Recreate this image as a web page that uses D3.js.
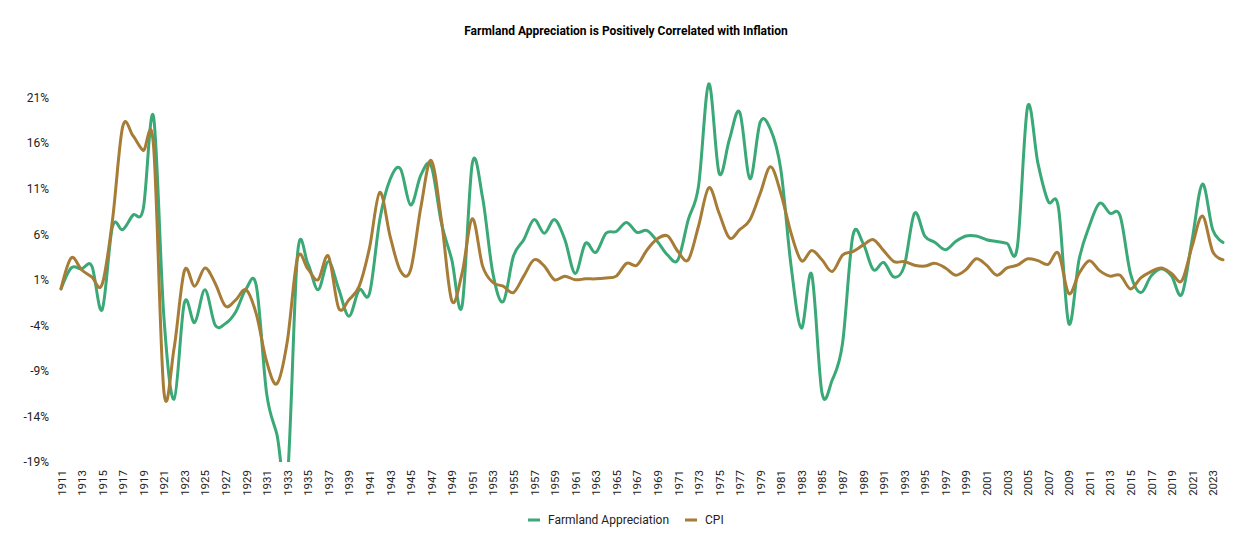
<!DOCTYPE html>
<html>
<head>
<meta charset="utf-8">
<script src="https://cdn.jsdelivr.net/npm/d3@7"></script>
<style>
  body { margin: 0; background: #fff; }
  text { font-family: Roboto, "Noto Sans", sans-serif; }
</style>
</head>
<body>
<svg id="chart"></svg>
<script>
// Data (annual % change)
const years = d3.range(1911, 2025);

const farmland = [
    0.0, 2.3, 2.2, 2.5, -2.3, 6.8, 6.5, 8.1, 8.8, 18.9,          // 1911-1920
    -3.0, -12.1, -1.5, -3.7, -0.1, -4.0, -3.8, -2.5, 0.0, 0.3,   // 1921-1930
    -11.5, -16.0, -21.0, 3.8, 2.8, -0.1, 3.0, 0.0, -3.0, -0.1,   // 1931-1940
    -0.5, 7.6, 12.0, 13.2, 9.2, 12.5, 13.5, 7.2, 3.2, -1.9,      // 1941-1950
    13.8, 10.0, 1.7, -1.4, 3.6, 5.4, 7.6, 6.1, 7.6, 5.4,         // 1951-1960
    1.7, 5.0, 4.0, 6.1, 6.3, 7.3, 6.2, 6.4, 5.2, 3.7,            // 1961-1970
    3.2, 7.6, 11.3, 22.5, 12.7, 16.4, 19.4, 12.1, 18.3, 17.5,    // 1971-1980
    13.1, 2.5, -4.3, 1.6, -11.4, -10.0, -6.0, 5.8, 5.0, 2.1,     // 1981-1990
    2.9, 1.3, 2.5, 8.3, 5.8, 5.1, 4.3, 5.2, 5.8, 5.8,            // 1991-2000
    5.4, 5.2, 5.0, 4.6, 20.0, 13.8, 9.6, 8.9, -3.8, 3.2,         // 2001-2010
    6.9, 9.4, 8.3, 8.0, 1.7, -0.4, 1.4, 2.2, 1.4, -0.6,          // 2011-2020
    5.4, 11.5, 6.5, 5.1                                          // 2021-2024
];

const cpi = [
    0.0, 3.4, 2.1, 1.3, 0.5, 7.5, 17.8, 16.8, 15.2, 15.7,        // 1911-1920
    -11.2, -6.5, 2.0, 0.3, 2.3, 0.6, -1.9, -1.2, -0.1, -2.8,     // 1921-1930
    -8.0, -10.4, -5.8, 3.4, 2.2, 1.0, 3.6, -2.1, -1.2, 0.3,      // 1931-1940
    4.5, 10.6, 5.8, 2.0, 2.1, 9.0, 14.1, 7.5, -1.3, 1.7,         // 1941-1950
    7.7, 2.5, 0.7, 0.3, -0.4, 1.4, 3.2, 2.5, 1.0, 1.4,           // 1951-1960
    1.0, 1.1, 1.1, 1.2, 1.4, 2.8, 2.6, 4.3, 5.5, 5.8,            // 1961-1970
    4.1, 3.2, 6.9, 11.1, 8.3, 5.6, 6.5, 7.6, 10.5, 13.4,         // 1971-1980
    10.5, 6.1, 3.1, 4.2, 3.2, 1.9, 3.7, 4.1, 4.8, 5.4,           // 1981-1990
    4.2, 3.0, 3.0, 2.6, 2.5, 2.8, 2.3, 1.5, 2.1, 3.3,            // 1991-2000
    2.6, 1.5, 2.3, 2.6, 3.3, 3.1, 2.7, 3.9, -0.5, 1.7,           // 2001-2010
    3.1, 2.0, 1.4, 1.5, 0.0, 1.2, 1.9, 2.3, 1.7, 0.9,            // 2011-2020
    4.7, 8.0, 4.1, 3.2                                           // 2021-2024
];

const yTicks = [-19, -14, -9, -4, 1, 6, 11, 16, 21];
const xTicks = years.filter(y => y % 2 === 1);

const seriesNames = ["Farmland Appreciation", "CPI"];
const seriesColors = ["#3aa877", "#a67c36"];

// Layout
const W = 1254, H = 540;
const margin = { top: 52, right: 31, bottom: 78, left: 61 };
const width = W - margin.left - margin.right;
const height = H - margin.top - margin.bottom;

const svg = d3.select("#chart")
    .attr("width", W)
    .attr("height", H);

svg.append("text")
    .attr("x", 626)
    .attr("y", 35)
    .attr("text-anchor", "middle")
    .style("font-size", "12px")
    .style("font-weight", "bold")
    .attr("fill", "#000")
    .text("Farmland Appreciation is Positively Correlated with Inflation");

const g = svg.append("g")
    .attr("transform", `translate(${margin.left}, ${margin.top})`);

// Scales
const xScale = d3.scaleLinear().domain([1911, 2024]).range([0, width]);
const yScale = d3.scaleLinear().domain([-19, 26]).range([height, 0]);

// Axes
const xAxis = g.append("g")
    .attr("transform", `translate(0, ${height})`)
    .call(d3.axisBottom(xScale).tickValues(xTicks).tickSize(0).tickFormat(d3.format("d")));
xAxis.select(".domain").remove();
xAxis.selectAll("text")
    .attr("transform", "rotate(-90)")
    .attr("text-anchor", "end")
    .attr("x", -8)
    .attr("y", 0)
    .attr("dy", "0.35em")
    .attr("fill", "#222")
    .style("font-size", "11.5px")
    .style("font-family", "Roboto, sans-serif");

const yAxis = g.append("g")
    .call(d3.axisLeft(yScale).tickValues(yTicks).tickSize(0).tickPadding(12).tickFormat(d => d + "%"));
yAxis.select(".domain").remove();
yAxis.selectAll("text")
    .attr("fill", "#222")
    .style("font-size", "12px")
    .style("font-family", "Roboto, sans-serif");

// Clip the lines at the bottom of the plot area
g.append("clipPath")
    .attr("id", "plot-clip")
    .append("rect")
    .attr("x", -10)
    .attr("y", -margin.top)
    .attr("width", width + 20)
    .attr("height", height + margin.top);

const line = d3.line()
    .x(d => xScale(d.year))
    .y(d => yScale(d.value))
    .curve(d3.curveCatmullRom.alpha(0));

const series = [farmland, cpi].map((vals, i) => ({
    name: seriesNames[i],
    color: seriesColors[i],
    values: years.map((year, j) => ({ year, value: vals[j] }))
}));

g.append("g")
    .attr("clip-path", "url(#plot-clip)")
    .selectAll("path")
    .data(series)
    .enter().append("path")
    .attr("d", d => line(d.values))
    .attr("fill", "none")
    .attr("stroke", d => d.color)
    .attr("stroke-width", 3)
    .attr("stroke-linejoin", "round")
    .attr("stroke-linecap", "round");

// Legend
const legendItems = [
    { name: seriesNames[0], color: seriesColors[0], x: 528 },
    { name: seriesNames[1], color: seriesColors[1], x: 685 }
];

const legend = svg.append("g").attr("class", "legend");
legendItems.forEach(d => {
    legend.append("rect")
        .attr("x", d.x)
        .attr("y", 518.5)
        .attr("width", 12)
        .attr("height", 3)
        .attr("fill", d.color);
    legend.append("text")
        .attr("x", d.x + 20)
        .attr("y", 524)
        .attr("fill", "#222")
        .style("font-size", "12px")
        .text(d.name);
});
</script>
</body>
</html>
